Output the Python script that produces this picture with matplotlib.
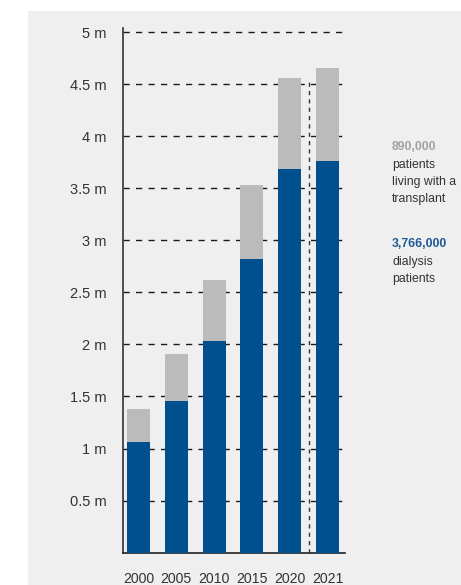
import matplotlib
matplotlib.use("Agg")
import matplotlib.pyplot as plt
from matplotlib.patches import Rectangle
from matplotlib import font_manager

years = ["2000", "2005", "2010", "2015", "2020", "2021"]
dialysis = [1.06, 1.46, 2.03, 2.82, 3.69, 3.766]
transplant = [0.32, 0.45, 0.59, 0.71, 0.87, 0.89]
y_ticks = [0.5, 1, 1.5, 2, 2.5, 3, 3.5, 4, 4.5, 5]
y_labels = ["0.5 m", "1 m", "1.5 m", "2 m", "2.5 m", "3 m", "3.5 m", "4 m", "4.5 m", "5 m"]

names = {f.name for f in font_manager.fontManager.ttflist}
fam = [f for f in ["Liberation Sans Narrow", "Liberation Sans", "DejaVu Sans"] if f in names]
plt.rcParams['font.family'] = fam

BLUE = "#00508F"
GRAY = "#BBBBBB"
BG = "#EFEFEF"
TXT = "#333333"

fig = plt.figure(figsize=(4.61, 5.85), dpi=100)
fig.patches.append(Rectangle((28/461, 0), 1 - 28/461, 1 - 10.7/585,
                             transform=fig.transFigure, facecolor=BG, edgecolor='none', zorder=-10))

ax = fig.add_axes([123/461, 1 - 552.6/585, (345-123)/461, (552.6-28)/585])
ax.set_facecolor('none')
x = list(range(len(years)))
ax.bar(x, dialysis, width=0.61, color=BLUE, zorder=3)
ax.bar(x, transplant, bottom=dialysis, width=0.61, color=GRAY, zorder=3)

for yv in y_ticks:
    ax.axhline(yv, color='#1a1a1a', lw=1.0, ls=(0, (4.5, 4.5)), zorder=1)
ax.axvline(4.5, ymin=0, ymax=4.56/5.04, color='#333333', lw=1.0, ls=(0, (3, 3)), zorder=2)

ax.set_xlim(-0.41, 5.46)
ax.set_ylim(0, 5.04)
ax.set_yticks(y_ticks)
ax.set_yticklabels(y_labels)
ax.set_xticks(x)
ax.set_xticklabels(years)
ax.tick_params(axis='y', length=0, labelsize=10.5, colors=TXT, pad=12)
ax.tick_params(axis='x', length=0, labelsize=10.2, colors=TXT, pad=14)
for s in ['top', 'right']:
    ax.spines[s].set_visible(False)
ax.spines['left'].set_color('#333333')
ax.spines['left'].set_linewidth(1.2)
ax.spines['bottom'].set_color('#222222')
ax.spines['bottom'].set_linewidth(1.2)

fs = 8.8
lx = 392/461
def ty(px):
    return 1 - px/585
fig.text(lx, ty(147), "890,000", color="#A3A3A3", fontsize=fs, fontweight='bold', va='center')
fig.text(lx, ty(165), "patients", color=TXT, fontsize=fs, va='center')
fig.text(lx, ty(182), "living with a", color=TXT, fontsize=fs, va='center')
fig.text(lx, ty(199), "transplant", color=TXT, fontsize=fs, va='center')
fig.text(lx, ty(244), "3,766,000", color="#1F5A96", fontsize=fs, fontweight='bold', va='center')
fig.text(lx, ty(262), "dialysis", color=TXT, fontsize=fs, va='center')
fig.text(lx, ty(279), "patients", color=TXT, fontsize=fs, va='center')

fig.savefig("out.png", dpi=100)
